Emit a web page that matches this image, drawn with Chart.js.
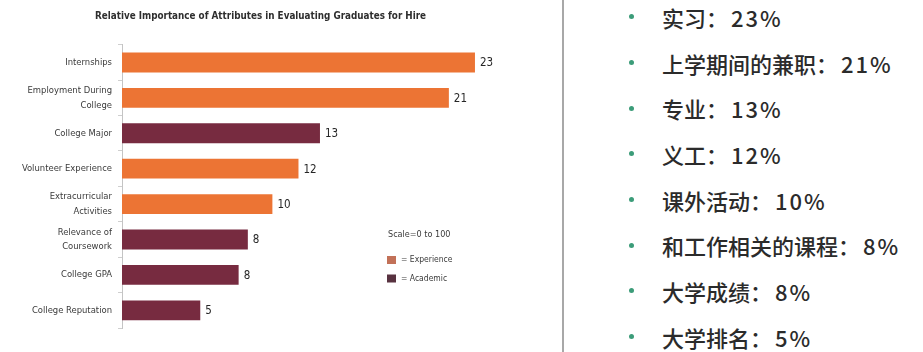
<!DOCTYPE html>
<html>
<head>
<meta charset="utf-8">
<script src="https://cdn.jsdelivr.net/npm/chart.js@4/dist/chart.umd.min.js"></script>
<style>
  html, body { margin: 0; padding: 0; background: #fff; }
  #wrap { position: relative; width: 923px; height: 352px; overflow: hidden; background: #fff; }
  #chartBox { position: absolute; left: 0; top: 0; width: 522px; height: 352px; }
  #divider { position: absolute; left: 562px; top: 0; width: 2px; height: 352px; background: #a8a8a8; }
  #list { position: absolute; left: 620px; top: -6px; margin: 0; padding: 0; list-style: none;
          font-family: 'Noto Sans CJK SC', sans-serif; font-weight: 500; font-size: 22px; color: #2b2b2b; }
  #list li { position: relative; height: 45.7px; display: flex; align-items: center; padding-left: 42px; white-space: nowrap; }
  #list li .num { margin-left: 3px; letter-spacing: 2px; }
  #list li::before { content: ''; position: absolute; left: 9px; top: 50%; width: 5px; height: 5px; margin-top: -2.5px;
                     border-radius: 50%; background: #3c9c79; }
</style>
</head>
<body>
<div id="wrap">
  <div id="chartBox"><canvas id="c" width="522" height="352"></canvas></div>
  <div id="divider"></div>
  <ul id="list"></ul>
</div>
<script>
// ---- data ----
const categories = [
  ["Internships"],
  ["Employment During", "College"],
  ["College Major"],
  ["Volunteer Experience"],
  ["Extracurricular", "Activities"],
  ["Relevance of", "Coursework"],
  ["College GPA"],
  ["College Reputation"]
];
const values = [23, 21.3, 12.9, 11.5, 9.8, 8.2, 7.6, 5.1];
const valueLabels = ["23", "21", "13", "12", "10", "8", "8", "5"];
const groups = ["Experience", "Experience", "Academic", "Experience", "Experience", "Academic", "Academic", "Academic"];
const legendNames = ["Experience", "Academic"];
const scaleNote = "Scale=0 to 100";
const chartTitle = "Relative Importance of Attributes in Evaluating Graduates for Hire";
const zhLabels = ["实习", "上学期间的兼职", "专业", "义工", "课外活动", "和工作相关的课程", "大学成绩", "大学排名"];
const zhPercents = [23, 21, 13, 12, 10, 8, 8, 5];

// ---- styles ----
const groupColors = { Experience: "#ec7434", Academic: "#772b40" };
const legendColors = { Experience: "#c27158", Academic: "#583240" };
const NARROW = "'Liberation Sans Narrow', 'DejaVu Sans Condensed', 'Arial Narrow', sans-serif";

const valueLabelPlugin = {
  id: 'valueLabels',
  afterDatasetsDraw(chart) {
    const ctx = chart.ctx;
    const meta = chart.getDatasetMeta(0);
    ctx.save();
    ctx.font = "11.5px " + NARROW;
    ctx.fillStyle = "#262626";
    ctx.textAlign = "left";
    ctx.textBaseline = "middle";
    meta.data.forEach((bar, i) => {
      ctx.fillText(valueLabels[i], bar.x + 5, bar.y + 1);
    });
    ctx.restore();
  }
};

const customLegend = {
  id: 'customLegend',
  afterDraw(chart) {
    const ctx = chart.ctx;
    ctx.save();
    ctx.textBaseline = "middle";
    ctx.textAlign = "left";
    ctx.fillStyle = "#3a3a3a";
    ctx.font = "9px " + NARROW;
    ctx.fillText(scaleNote, 388, 235);
    ctx.font = "8.5px " + NARROW;
    legendNames.forEach((name, i) => {
      const y = 260 + i * 18.5;
      ctx.fillStyle = legendColors[name];
      ctx.fillRect(387, y - 4, 9, 8);
      ctx.fillStyle = "#3a3a3a";
      ctx.fillText("= " + name, 401, y);
    });
    ctx.restore();
  }
};

new Chart(document.getElementById('c'), {
  type: 'bar',
  data: {
    labels: categories,
    datasets: [{
      data: values,
      backgroundColor: groups.map(g => groupColors[g]),
      borderWidth: 0,
      barPercentage: 0.56,
      categoryPercentage: 1.0
    }]
  },
  options: {
    indexAxis: 'y',
    responsive: false,
    animation: false,
    devicePixelRatio: 1,
    layout: { padding: { left: 0, right: 1, top: 0, bottom: 24 } },
    plugins: {
      legend: { display: false },
      tooltip: { enabled: false },
      title: {
        display: true,
        text: chartTitle,
        color: "#2e2e2e",
        font: { family: NARROW, size: 9.8, weight: 'bold', lineHeight: 1.2 },
        padding: { top: 11, bottom: 22 }
      }
    },
    scales: {
      x: {
        display: false,
        min: 0,
        max: 26
      },
      y: {
        afterFit(scale) { scale.width = 122; },
        border: { display: true, color: "#c4c4c4", width: 1 },
        grid: { display: true, drawOnChartArea: false, drawTicks: true, tickLength: 4, color: "#cfcfcf", offset: true },
        ticks: {
          color: "#3a3a3a",
          padding: 6,
          font: { family: NARROW, size: 9.4, lineHeight: 1.55 }
        }
      }
    }
  },
  plugins: [valueLabelPlugin, customLegend]
});

// ---- right-hand list ----
const list = document.getElementById('list');
zhLabels.forEach((t, i) => {
  const li = document.createElement('li');
  const a = document.createElement('span');
  a.textContent = t + "：";
  const b = document.createElement('span');
  b.className = 'num';
  b.textContent = zhPercents[i] + "%";
  li.appendChild(a);
  li.appendChild(b);
  list.appendChild(li);
});
</script>
</body>
</html>
